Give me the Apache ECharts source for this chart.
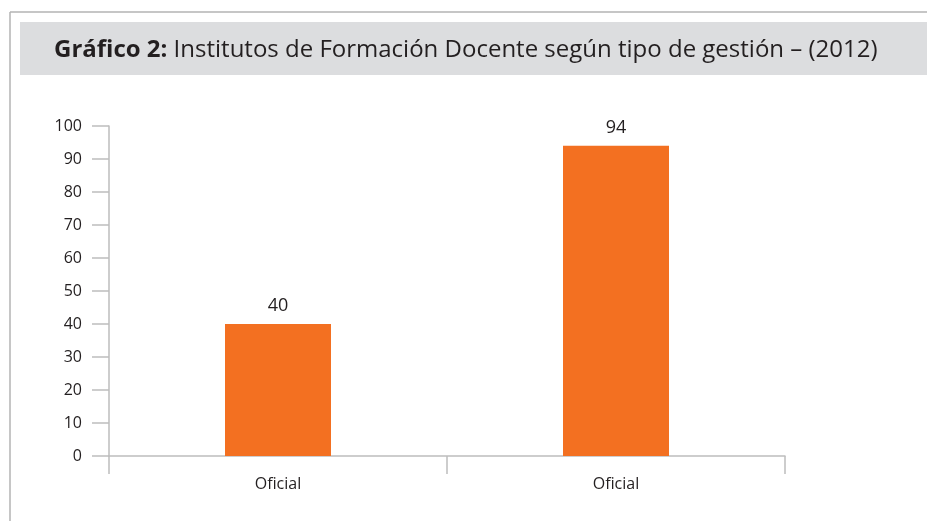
<!DOCTYPE html>
<html>
<head>
<meta charset="utf-8">
<script src="https://cdn.jsdelivr.net/npm/echarts@6/dist/echarts.min.js"></script>
<style>
  html, body { margin: 0; padding: 0; background: #fff; }
  #chart { width: 927px; height: 521px; }
</style>
</head>
<body>
<div id="chart"></div>
<script>
var categories = ['Oficial', 'Oficial'];
var values = [40, 94];
var yTicks = [0, 10, 20, 30, 40, 50, 60, 70, 80, 90, 100];

var myChart = echarts.init(document.getElementById('chart'));

var option = {
  backgroundColor: '#fff',
  textStyle: { fontFamily: '"Open Sans", "Noto Sans", sans-serif' },
  // marco y franja del título
  graphic: [
    { type: 'line', shape: { x1: 10, y1: 12, x2: 927, y2: 12 }, style: { stroke: '#b3b3b3', lineWidth: 1.5 } },
    { type: 'line', shape: { x1: 10, y1: 12, x2: 10, y2: 521 }, style: { stroke: '#b3b3b3', lineWidth: 1.5 } },
    { type: 'rect', shape: { x: 20, y: 22, width: 907, height: 53 }, style: { fill: '#dcdddf' }, z: -1 }
  ],
  title: {
    text: '{b|Gráfico 2:} Institutos de Formación Docente según tipo de gestión – (2012)',
    left: 49,
    top: 33,
    textStyle: {
      fontSize: 24,
      fontWeight: 'normal',
      color: '#231f20',
      rich: {
        b: { fontSize: 24, fontWeight: 'bold', color: '#231f20' }
      }
    }
  },
  grid: { left: 109, right: 142, top: 126, bottom: 65 },
  xAxis: {
    type: 'category',
    data: categories,
    axisLine: { lineStyle: { color: '#bdbdbd', width: 1.5 } },
    axisTick: { show: true, length: 18, lineStyle: { color: '#bdbdbd', width: 1.5 } },
    axisLabel: { color: '#231f20', fontSize: 16, margin: 20 }
  },
  yAxis: {
    type: 'value',
    min: 0,
    max: 100,
    interval: 10,
    axisLine: { show: true, lineStyle: { color: '#bdbdbd', width: 1.5 } },
    axisTick: { show: true, length: 17, lineStyle: { color: '#bdbdbd', width: 1.5 } },
    axisLabel: {
      color: '#231f20', fontSize: 16, margin: 27,
      formatter: function (v) { return yTicks.indexOf(v) >= 0 ? String(v) : ''; }
    },
    splitLine: { show: false }
  },
  series: [
    {
      type: 'bar',
      data: values,
      barWidth: 106,
      itemStyle: { color: '#f37021' },
      label: {
        show: true,
        position: 'top',
        distance: 9,
        color: '#231f20',
        fontSize: 18
      }
    }
  ]
};

myChart.setOption(option);
</script>
</body>
</html>
